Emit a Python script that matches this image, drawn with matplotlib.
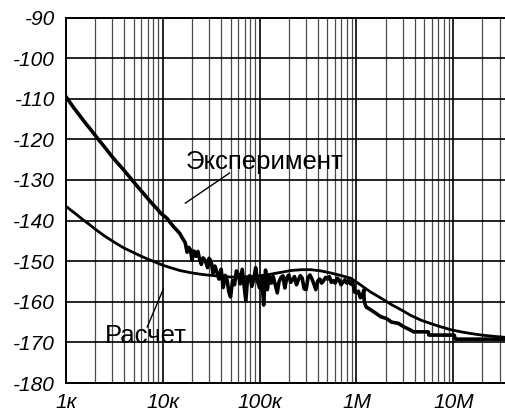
import matplotlib
matplotlib.use("Agg")
import matplotlib.pyplot as plt
from matplotlib.ticker import FixedLocator, LogLocator, NullFormatter

# ---- data: frequency in kHz, level in dB ----
exp_khz = [1.0, 1.2, 1.4, 1.6, 1.8, 2.0, 2.3, 2.6, 3.0, 3.4, 3.9, 4.4, 5.0, 5.6, 6.3, 7.0,
           7.6, 8.3, 9.0, 9.6, 10.5, 11.2, 12, 13, 14, 15, 16, 17, 17.8, 18.5, 19.3,
           20, 21, 22, 23, 24, 25, 26, 27.5, 29, 30, 31.5, 33, 34.5, 36, 38, 40, 42, 44,
           46, 48, 50, 52.5, 55, 57.5, 60, 63, 66, 69, 72, 75, 79, 83, 87, 91, 95, 100,
           105, 110, 115, 120, 126, 132, 138, 145, 152, 158, 166, 174, 182, 190, 200,
           209, 219, 229, 240, 251, 263, 275, 288, 302, 316, 331, 347, 363, 380, 398,
           417, 437, 457, 479, 501, 525, 550, 575, 603, 631, 661, 692, 724, 759, 794,
           832, 871, 912, 955, 1000, 1047, 1096, 1148, 1190, 1202, 1259, 1410, 1580,
           1790, 2030, 2300, 2700, 3100, 3500, 3900, 5500, 5600, 10200, 10500, 36000]
exp_db = [-109.5, -112.2, -114.3, -116.1, -117.6, -119.0, -120.8, -122.4, -124.3, -125.8,
          -127.4, -128.9, -130.5, -131.9, -133.3, -134.6, -135.6, -136.6, -137.5, -138.3,
          -139.0, -139.6, -140.6, -141.6, -142.4, -143.2, -144.4, -145.4, -147.8, -146.6,
          -147.2,
          -149.7, -147.5, -148.8, -147.6, -149.5, -150.8, -149.2, -149.9, -151.6, -149.3,
          -150.0, -153.0, -151.2, -152.5, -154.4, -152.0, -156.5, -153.5, -154.6, -157.5,
          -158.8, -154.8, -155.8, -152.4, -153.2, -155.6, -152.0, -156.0, -159.8, -154.0,
          -153.6, -156.2, -154.4, -151.6, -155.0, -156.6, -153.8, -160.8, -152.2, -157.0,
          -153.6, -155.4, -153.8, -155.8, -157.8, -155.2, -154.0, -153.6, -156.6, -154.2,
          -153.4, -155.2, -154.6, -153.8, -155.8, -154.6, -153.6, -154.2, -156.8, -157.0,
          -154.0, -153.4, -154.4, -155.6, -157.0, -154.9, -154.4, -155.4, -154.8, -154.0,
          -154.4, -153.8, -155.2, -154.8, -155.4, -154.2, -154.6, -155.8, -155.2, -154.6,
          -155.4, -154.8, -155.6, -155.0, -157.6, -157.8, -157.4, -159.0, -158.6, -157.1,
          -160.0, -161.3, -162.0, -162.8, -163.7, -164.1, -165.0, -165.3, -166.2, -166.8,
          -167.4, -167.4, -168.2, -168.2, -169.2, -169.2]

calc_khz = [1.0, 1.25, 1.5, 1.75, 2.0, 2.5, 3.0, 3.5, 4.0, 5.0, 6.0, 7.0, 8.5, 10, 12, 15,
            20, 26, 35, 50, 70, 100, 130, 170, 210, 270, 340, 430, 540, 680, 875, 1110,
            1400, 1790, 2300, 2900, 3600, 4600, 5900, 7500, 9500, 12000, 15000, 19600,
            26000, 36000]
calc_db = [-136.5, -138.3, -139.8, -141.0, -142.1, -143.8, -145.0, -146.0, -146.8, -147.9,
           -148.8, -149.5, -150.3, -151.0, -151.6, -152.3, -152.9, -153.3, -153.6, -153.9,
           -153.9, -153.6, -153.2, -152.7, -152.3, -152.1, -152.1, -152.4, -152.9, -153.5,
           -154.2, -155.9, -157.6, -159.1, -160.7, -162.0, -163.3, -164.5, -165.4, -166.2,
           -166.9, -167.4, -167.8, -168.2, -168.5, -168.8]

y_ticks = [-90, -100, -110, -120, -130, -140, -150, -160, -170, -180]
x_ticks_khz = [1, 10, 100, 1000, 10000]
x_labels = ["1к", "10к", "100к", "1М", "10М"]

fig = plt.figure(figsize=(5.05, 4.15), dpi=100)
ax = fig.add_axes([0.1307, 0.0771, 0.8713, 0.8807])
ax.set_xscale("log")
ax.set_xlim(1, 35000)
ax.set_ylim(-180, -90)

ax.plot(calc_khz, calc_db, color="black", lw=2.0, solid_joinstyle="round")
ax.plot(exp_khz, exp_db, color="black", lw=2.6, solid_joinstyle="round")

ax.xaxis.set_major_locator(FixedLocator(x_ticks_khz))
ax.xaxis.set_minor_locator(LogLocator(base=10, subs=range(2, 10), numticks=20))
ax.xaxis.set_minor_formatter(NullFormatter())
ax.set_xticklabels(x_labels)
ax.set_yticks(y_ticks)
ax.set_yticklabels([str(v) for v in y_ticks])

ax.grid(True, which="major", color="black", lw=1.2)
ax.grid(True, which="minor", axis="x", color="#4a4a4a", lw=0.9)
ax.tick_params(which="both", length=0)
ax.tick_params(axis="x", pad=7)
ax.tick_params(axis="y", pad=8)
for lab in ax.get_xticklabels() + ax.get_yticklabels():
    lab.set_fontfamily("Liberation Sans")
    lab.set_fontstyle("italic")
    lab.set_fontsize(15)
for s in ax.spines.values():
    s.set_linewidth(1.4)
    s.set_color("black")

ax.text(17.1, -127.3, "Эксперимент", fontsize=18.5, fontfamily="Liberation Sans",
        ha="left", va="baseline")
ax.plot([17.1, 48.8], [-135.7, -128.3], color="black", lw=1.0)
ax.text(2.54, -170.2, "Расчет", fontsize=18.5, fontfamily="Liberation Sans",
        ha="left", va="baseline")
ax.plot([6.9, 10.1], [-166.2, -156.9], color="black", lw=1.0)

fig.savefig("out.png", dpi=100)
